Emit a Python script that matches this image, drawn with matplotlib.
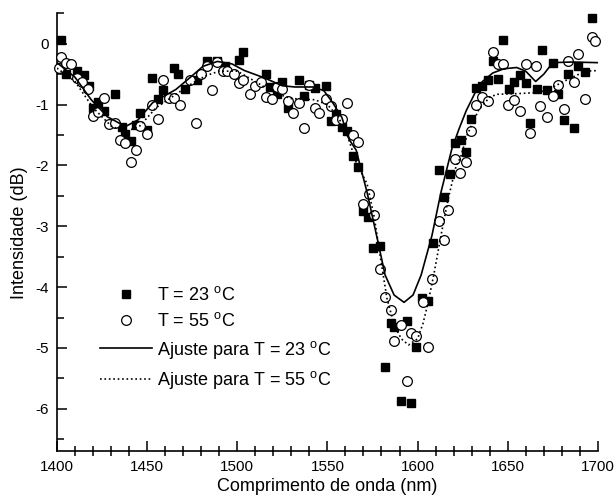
import numpy as np
import matplotlib
matplotlib.use("Agg")
import matplotlib.pyplot as plt
from matplotlib.ticker import MultipleLocator

plt.rcParams['font.family'] = ['Liberation Sans', 'DejaVu Sans']
plt.rcParams['mathtext.fontset'] = 'custom'
plt.rcParams['mathtext.rm'] = 'Liberation Sans'
plt.rcParams['axes.unicode_minus'] = False

# measured points, T = 23 C
x23 = [1402, 1405, 1411, 1415, 1417.5, 1420, 1423, 1426, 1432, 1436, 1438, 1441,
       1444, 1446, 1450, 1452.6, 1456, 1459, 1465, 1467, 1471, 1477.5, 1483, 1489,
       1493, 1501, 1503, 1516, 1518, 1522, 1525, 1528, 1534, 1537, 1540, 1543,
       1549, 1552, 1555, 1558, 1561, 1564, 1567, 1570, 1572.6, 1575.5, 1579, 1582,
       1585, 1587, 1591, 1594, 1596.5, 1599, 1602.6, 1606, 1608.5, 1611.7, 1614.5,
       1618, 1620.7, 1624, 1627, 1629.8, 1632.6, 1636, 1639, 1641.7, 1644.5, 1647.5,
       1650.7, 1653.6, 1657, 1660, 1662.6, 1666, 1669, 1671.7, 1675, 1678, 1681,
       1683.6, 1687, 1689, 1692.7, 1697]
y23 = [0.07, -0.49, -0.44, -0.52, -0.69, -1.05, -0.95, -1.11, -0.82, -1.36, -1.49, -1.6,
       -1.34, -1.14, -1.41, -0.57, -0.9, -0.76, -0.39, -0.49, -0.75, -0.59, -0.29, -0.29,
       -0.37, -0.27, -0.13, -0.49, -0.71, -0.82, -0.62, -1.05, -0.59, -0.86, -0.67, -0.72,
       -0.69, -1.27, -1.16, -1.36, -1.44, -1.84, -2.03, -2.75, -2.84, -3.35, -3.33, -5.31,
       -4.59, -4.66, -5.87, -4.56, -5.9, -4.98, -4.18, -4.23, -3.27, -2.07, -2.52,
       -2.14, -1.63, -1.58, -1.78, -1.23, -0.73, -0.69, -0.6, -0.29, -0.58, 0.07,
       -0.75, -0.62, -0.51, -0.64, -1.31, -0.74, -0.1, -0.76, -0.31, -0.82, -1.26,
       -0.49, -1.38, -0.37, -0.47, 0.42]

# measured points, T = 55 C
x55 = [1401, 1402, 1405, 1408, 1411, 1414, 1417, 1420, 1423, 1426, 1429, 1432, 1435,
       1438, 1441, 1444, 1446, 1450, 1452.6, 1456, 1459, 1462, 1465, 1468, 1474, 1477,
       1480, 1483, 1486, 1489, 1492, 1494.5, 1498, 1501, 1503, 1507, 1510, 1513, 1516,
       1519, 1522, 1525, 1528, 1531, 1534, 1537, 1540, 1543, 1545.5, 1549, 1552, 1555,
       1558, 1561, 1564, 1567, 1570, 1573, 1576, 1579, 1582, 1585, 1587, 1591, 1594,
       1596.6, 1599, 1603, 1605.6, 1608, 1611.7, 1614.5, 1617, 1620.7, 1623.6, 1627,
       1629.8, 1632.6, 1636, 1639, 1641.7, 1644.5, 1647.5, 1650, 1653.6, 1656.6, 1660,
       1662.6, 1665.5, 1668, 1671.7, 1675, 1678, 1681, 1683.6, 1687, 1689, 1692.7,
       1696.5, 1698.5]
y55 = [-0.4, -0.22, -0.31, -0.33, -0.56, -0.62, -0.74, -1.19, -1.12, -0.89, -1.32, -1.31, -1.58,
       -1.63, -1.95, -1.75, -1.35, -1.49, -1.0, -1.24, -0.59, -0.89, -0.89, -1.01, -0.59, -1.31,
       -0.49, -0.37, -0.76, -0.3, -0.45, -0.45, -0.49, -0.65, -0.59, -0.82, -0.69, -0.63, -0.87,
       -0.9, -0.71, -0.74, -0.94, -1.14, -0.97, -1.38, -0.67, -1.05, -1.13, -0.9, -1.03, -1.26,
       -1.24, -0.98, -1.5, -1.62, -2.63, -2.47, -2.81, -3.71, -4.17, -4.38, -4.89, -4.62, -5.54,
       -4.75, -4.8, -4.25, -4.98, -3.87, -2.92, -3.22, -2.74, -1.9, -2.12, -1.94,
       -1.44, -1.01, -0.87, -0.94, -0.13, -0.33, -0.33, -1.01, -0.93, -1.11, -0.34,
       -1.47, -0.37, -1.03, -1.2, -0.86, -0.67, -1.07, -0.29, -0.63, -0.16, -0.9,
       0.11, 0.05]

# fitted curves
xfit23 = [1400, 1410, 1419, 1428, 1438, 1445, 1453, 1460, 1466, 1474, 1481, 1489, 1497,
          1504, 1515, 1525, 1532, 1542, 1548, 1553, 1558, 1562, 1566, 1569, 1572, 1578,
          1582, 1587, 1592.5, 1597.5, 1602, 1608, 1613, 1619, 1623, 1627, 1632, 1636,
          1641.7, 1648, 1655, 1660, 1665.5, 1670, 1675, 1685, 1700]
yfit23 = [-0.31, -0.55, -0.92, -1.2, -1.36, -1.25, -0.97, -0.85, -0.75, -0.55, -0.37, -0.29, -0.33,
          -0.44, -0.56, -0.69, -0.71, -0.71, -0.77, -0.97, -1.21, -1.57, -1.75, -2.1, -2.44, -3.25,
          -3.8, -4.13, -4.25, -4.13, -3.8, -3.15, -2.44, -1.73, -1.4, -1.1, -0.8, -0.62,
          -0.48, -0.41, -0.39, -0.45, -0.62, -0.5, -0.31, -0.3, -0.31]

xfit55 = [1400, 1410, 1420, 1430, 1438, 1446, 1455, 1465, 1475, 1483, 1490, 1500, 1510,
          1520, 1530, 1543, 1550, 1556, 1561, 1566, 1572, 1576, 1579.5, 1583, 1587, 1591,
          1595, 1600, 1603, 1605.5, 1609, 1613, 1617, 1621, 1624, 1627.5, 1634, 1640,
          1644, 1655, 1667, 1674, 1681, 1693, 1700]
yfit55 = [-0.4, -0.62, -1.05, -1.35, -1.45, -1.35, -1.05, -0.85, -0.65, -0.52, -0.45, -0.45, -0.62,
          -0.8, -0.9, -0.92, -1.0, -1.2, -1.5, -1.95, -2.3, -2.85, -3.53, -4.18, -4.62, -4.85,
          -4.95, -4.85, -4.6, -4.3, -3.8, -3.15, -2.55, -2.05, -1.85, -1.5, -1.08, -0.88,
          -0.83, -0.82, -0.8, -0.73, -0.62, -0.45, -0.44]

fig = plt.figure(figsize=(6.16, 4.99), dpi=100)
ax = fig.add_axes([0.0925, 0.0954, 0.878, 0.8778])

ax.plot(x23, y23, 's', color='black', markersize=6, clip_on=False,
        label='T = 23 $^{\\mathrm{o}}$C', zorder=3)
ax.plot(x55, y55, 'o', markerfacecolor='white', markeredgecolor='black',
        markeredgewidth=0.9, markersize=7, clip_on=False,
        label='T = 55 $^{\\mathrm{o}}$C', zorder=3)
ax.plot(xfit23, yfit23, '-', color='black', linewidth=1.2,
        label='Ajuste para T = 23 $^{\\mathrm{o}}$C', zorder=4)
ax.plot(xfit55, yfit55, ':', color='black', linewidth=1.2,
        label='Ajuste para T = 55 $^{\\mathrm{o}}$C', zorder=4)

ax.set_xlim(1400, 1700)
ax.set_ylim(-6.7, 0.5)
ax.xaxis.set_major_locator(MultipleLocator(50))
ax.xaxis.set_minor_locator(MultipleLocator(10))
ax.yaxis.set_major_locator(MultipleLocator(1))
ax.yaxis.set_minor_locator(MultipleLocator(0.5))
ax.tick_params(which='major', direction='in', length=7, width=1.1, labelsize=11, pad=6)
ax.tick_params(axis='x', which='minor', direction='inout', length=7, width=1.1)
ax.tick_params(axis='y', which='minor', direction='in', length=5, width=1.1)

for side in ('top', 'right'):
    ax.spines[side].set_visible(False)
for side in ('left', 'bottom'):
    ax.spines[side].set_linewidth(1.2)

ax.set_xlabel('Comprimento de onda (nm)', fontsize=13, labelpad=3)
ax.set_ylabel('Intensidade (dB)', fontsize=13, labelpad=5)

ax.legend(loc='upper left', bbox_to_anchor=(0.079, 0.378), frameon=False,
          fontsize=13, handlelength=2.9, handletextpad=0.3, borderpad=0,
          borderaxespad=0, labelspacing=0.47)

fig.savefig('out.png', dpi=100)
